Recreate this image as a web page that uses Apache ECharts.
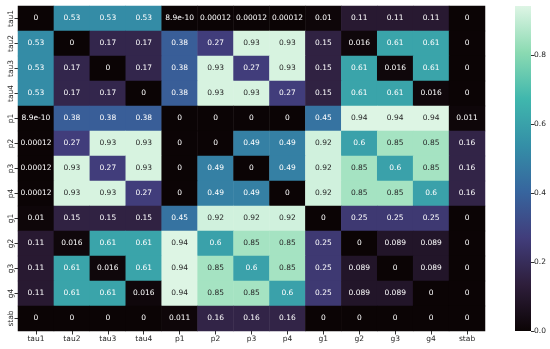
<!DOCTYPE html>
<html>
<head>
<meta charset="utf-8">
<script src="https://cdn.jsdelivr.net/npm/echarts@6/dist/echarts.min.js"></script>
<style>html,body{margin:0;padding:0;background:#fff}#c{width:550px;height:349px}</style>
</head>
<body>
<div id="c"></div>
<script>
const labels = ['tau1','tau2','tau3','tau4','p1','p2','p3','p4','g1','g2','g3','g4','stab'];
const row_tau1 = [0, 0.53, 0.53, 0.53, 8.9e-10, 0.00012, 0.00012, 0.00012, 0.01, 0.11, 0.11, 0.11, 0];
const row_tau2 = [0.53, 0, 0.17, 0.17, 0.38, 0.27, 0.93, 0.93, 0.15, 0.016, 0.61, 0.61, 0];
const row_tau3 = [0.53, 0.17, 0, 0.17, 0.38, 0.93, 0.27, 0.93, 0.15, 0.61, 0.016, 0.61, 0];
const row_tau4 = [0.53, 0.17, 0.17, 0, 0.38, 0.93, 0.93, 0.27, 0.15, 0.61, 0.61, 0.016, 0];
const row_p1 = [8.9e-10, 0.38, 0.38, 0.38, 0, 0, 0, 0, 0.45, 0.94, 0.94, 0.94, 0.011];
const row_p2 = [0.00012, 0.27, 0.93, 0.93, 0, 0, 0.49, 0.49, 0.92, 0.6, 0.85, 0.85, 0.16];
const row_p3 = [0.00012, 0.93, 0.27, 0.93, 0, 0.49, 0, 0.49, 0.92, 0.85, 0.6, 0.85, 0.16];
const row_p4 = [0.00012, 0.93, 0.93, 0.27, 0, 0.49, 0.49, 0, 0.92, 0.85, 0.85, 0.6, 0.16];
const row_g1 = [0.01, 0.15, 0.15, 0.15, 0.45, 0.92, 0.92, 0.92, 0, 0.25, 0.25, 0.25, 0];
const row_g2 = [0.11, 0.016, 0.61, 0.61, 0.94, 0.6, 0.85, 0.85, 0.25, 0, 0.089, 0.089, 0];
const row_g3 = [0.11, 0.61, 0.016, 0.61, 0.94, 0.85, 0.6, 0.85, 0.25, 0.089, 0, 0.089, 0];
const row_g4 = [0.11, 0.61, 0.61, 0.016, 0.94, 0.85, 0.85, 0.6, 0.25, 0.089, 0.089, 0, 0];
const row_stab = [0, 0, 0, 0, 0.011, 0.16, 0.16, 0.16, 0, 0, 0, 0, 0];
const rows = [row_tau1,row_tau2,row_tau3,row_tau4,row_p1,row_p2,row_p3,row_p4,row_g1,row_g2,row_g3,row_g4,row_stab];
const cbarTicks = [0, 0.2, 0.4, 0.6, 0.8];
const vmax = 0.942;

const mako = ['#0b0405','#2e1e3b','#413d7b','#37659e','#348fa7','#40b7ad','#8bdab2','#def5e5'];

function fmt(v){
  let s = v.toPrecision(2);
  if (s.indexOf('e') >= 0) { return s.replace('e-', 'e-'); }
  if (s.indexOf('.') >= 0) s = s.replace(/0+$/,'').replace(/\.$/,'');
  return s;
}

const data = [];
rows.forEach((r,i)=>r.forEach((v,j)=>{
  data.push({value:[j,i,v], label:{color: v > 0.8 ? '#262626' : '#ffffff'}});
}));

const font = 'DejaVu Sans';
const chart = echarts.init(document.getElementById('c'), null, {renderer:'canvas'});
chart.setOption({
  backgroundColor:'#fff',
  animation:false,
  grid:[
    {left:18, right:65, top:6, bottom:18},
    {left:515, width:16, top:6, bottom:18}
  ],
  xAxis:[
    {type:'category', data:labels, gridIndex:0,
     axisLine:{show:false}, splitLine:{show:false},
     axisTick:{show:true, alignWithLabel:true, length:3.5, lineStyle:{color:'#333'}},
     axisLabel:{fontSize:7.5, fontFamily:font, color:'#262626', margin:4}},
    {type:'category', data:[''], gridIndex:1, show:false}
  ],
  yAxis:[
    {type:'category', data:labels, gridIndex:0, inverse:true,
     axisLine:{show:false}, splitLine:{show:false},
     axisTick:{show:true, alignWithLabel:true, length:3.5, lineStyle:{color:'#333'}},
     axisLabel:{fontSize:7.5, fontFamily:font, color:'#262626', rotate:90, margin:3}},
    {type:'value', gridIndex:1, min:0, max:vmax, position:'right',
     axisLine:{show:false}, splitLine:{show:false},
     axisTick:{show:true, length:3.5, lineStyle:{color:'#333'}, customValues:cbarTicks},
     axisLabel:{fontSize:7.5, fontFamily:font, color:'#262626', margin:3, customValues:cbarTicks,
       formatter:v=>v.toFixed(1)}}
  ],
  visualMap:{show:false, min:0, max:vmax, seriesIndex:0, inRange:{color:mako}},
  series:[
    {type:'heatmap', xAxisIndex:0, yAxisIndex:0, data:data,
     label:{show:true, fontSize:7.5, fontFamily:font, formatter:p=>fmt(p.value[2])},
     emphasis:{disabled:true}, silent:true},
    {type:'bar', xAxisIndex:1, yAxisIndex:1, data:[vmax], barWidth:'100%', silent:true,
     itemStyle:{color:new echarts.graphic.LinearGradient(0,1,0,0,
       mako.map((c,i)=>({offset:i/(mako.length-1), color:c})))}}
  ]
});
</script>
</body>
</html>
